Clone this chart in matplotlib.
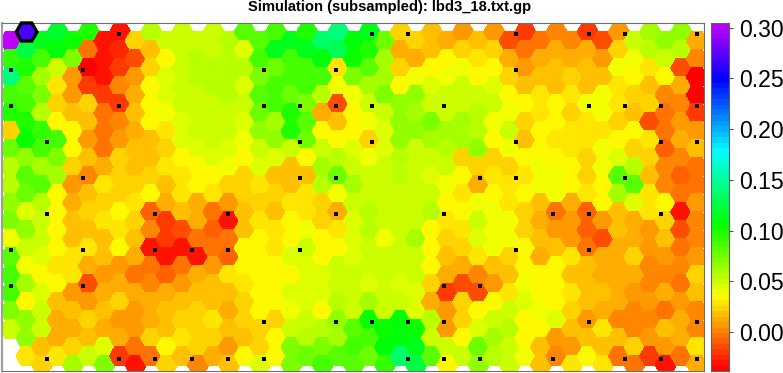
import numpy as np
import matplotlib
matplotlib.use('Agg')
import matplotlib.pyplot as plt
from matplotlib.collections import PolyCollection
from matplotlib.colors import ListedColormap, hsv_to_rgb

plt.rcParams['font.family'] = ['Liberation Sans', 'DejaVu Sans']

# one list per hexagon column, top to bottom
hex_values = [
    [.30, .095, .14, .09, .10, .025, .075, .055, .058, .065, .07, .04, .08, .085, .09, .07, .052, None, None],
    [.27, .125, .10, .08, .09, .10, .105, .065, .08, .075, .045, .065, .05, .04, .06, .035, .065, .065, .03],
    [.115, .09, .06, .07, .055, .095, .09, .06, .08, .055, .05, .048, .042, .036, .045, .05, .05, .018, .025],
    [.12, .11, .05, .028, .025, .035, .09, .07, .06, .032, .033, .036, .033, .03, .036, .017, .012, .012, .028],
    [.105, .07, .005, .005, .02, .035, .035, .025, .005, .01, .02, .018, .028, .028, .005, .018, .012, .022, .06],
    [.10, -.003, -.035, -.022, .022, .018, .005, .018, .002, .018, .022, .02, .028, .012, -.012, .005, .022, .018, .05],
    [-.033, -.033, -.03, -.018, -.005, -.003, -.003, .012, .03, .025, .028, .018, .016, .008, .01, .02, .012, .042, .07],
    [-.032, -.025, -.018, .003, -.02, .002, .008, .022, .025, .024, .032, .028, .032, .008, .01, .022, .008, .01, -.018],
    [.025, -.012, .008, .012, .018, .012, .017, .02, .024, .03, .024, .018, .012, -.002, .012, .008, .008, -.002, -.028],
    [.055, .02, .022, .035, .035, .035, .018, .018, .022, .035, -.01, .002, -.028, -.006, 0, .012, .012, .022, -.003],
    [.05, .035, .042, .042, .04, .03, .025, .028, .02, .012, -.018, -.022, -.028, -.008, .012, .018, .018, .032, .025],
    [.05, .05, .052, .05, .05, .045, .042, .035, .03, .026, .018, -.012, -.032, -.003, .005, .018, .024, .026, .018],
    [.052, .054, .056, .052, .05, .05, .045, .035, .032, .014, .012, -.006, -.028, .01, .016, .024, .024, .022, 0],
    [.05, .052, .056, .055, .05, .05, .05, .045, .035, .026, -.005, -.008, -.002, .006, .02, .018, .03, .024, .01],
    [.056, .053, .056, .054, .05, .05, .045, .04, .025, .006, -.03, -.006, -.008, .028, .018, .012, .02, .006, .016],
    [.08, .045, .056, .045, .05, .045, .04, .035, .025, .022, .02, .02, .034, .036, .03, .024, .024, .018, .036],
    [.08, .085, .07, .08, .075, .065, .05, .045, .03, .024, .026, .032, .035, .034, .032, .032, .022, .022, .045],
    [.09, .115, .075, .085, .085, .06, .065, .045, .02, .025, .018, .03, .03, .035, .036, .036, .024, .035, .036],
    [.115, .085, .09, .075, .10, .10, .05, .02, .018, .026, .036, .035, .045, .036, .042, .04, .05, .07, .07],
    [.10, .115, .09, .09, .07, .08, .075, .035, .02, .03, .03, .04, .05, .045, .043, .043, .05, .055, .075],
    [.135, .11, .09, .055, .015, .035, .05, .06, .055, .022, .024, .036, .036, .045, .045, .036, .055, .07, .09],
    [.14, .13, .03, .04, -.012, .018, .035, .055, .075, .038, .012, .028, .035, .052, .048, .055, .065, .06, .08],
    [.11, .105, .07, .04, .035, .035, .042, .05, .06, .048, .045, .045, .045, .05, .05, .05, .08, .085, .08],
    [.115, .10, .08, .06, .05, .04, .025, .04, .05, .048, .053, .053, .048, .05, .042, .06, .105, .09, .075],
    [.075, .06, .06, .07, .05, .045, .045, .05, .05, .048, .048, .04, .05, .05, .05, .048, .105, .11, .095],
    [.025, .012, .025, .035, .065, .065, .065, .055, .055, .05, .052, .05, .05, .05, .045, .048, .11, .11, .135],
    [.025, .015, .04, .065, .062, .068, .05, .05, .05, .052, .052, .06, .05, .05, .045, .045, .105, .115, .125],
    [.017, .017, .032, .045, .05, .07, .06, .05, .045, .052, .056, .033, .033, .035, .022, .012, .055, .052, .08],
    [.01, .035, .04, .05, .05, .06, .055, .05, .04, .036, .03, .025, .02, .012, -.018, .005, .008, .048, .036],
    [.005, .022, .04, .05, .05, .06, .06, .025, .035, .03, .036, .03, .024, .012, -.012, .022, .022, .036, .048],
    [.018, .03, .035, .05, .055, .055, .065, .025, .015, .04, .052, .042, .028, .004, -.012, .036, .044, .075, .065],
    [.008, .025, .032, .045, .05, .04, .035, .025, .03, .036, .04, .04, .04, .02, .005, .035, .048, .062, .058],
    [-.015, .012, .025, .035, .04, .048, .038, .025, .03, .03, .038, .04, .024, .02, .03, .048, .054, .05, .05],
    [-.02, -.005, .008, .018, .032, .025, .018, .035, .03, .036, .022, .022, .036, .032, .04, .042, .035, .036, .04],
    [-.002, .01, .02, .028, .028, .034, .036, .04, .04, .018, .012, .018, .014, .033, .036, .037, .036, .016, .02],
    [.003, .01, .016, .02, .034, .034, .03, .035, .04, .038, -.002, .006, .02, .032, .033, .035, .045, .005, 0],
    [.002, .012, .022, .028, .022, .028, .03, .035, .036, .012, .006, .006, .03, .018, .026, .022, .017, .008, .03],
    [-.018, .012, .02, .016, .04, .03, .028, .022, .025, .026, -.01, -.008, -.004, .018, .02, .018, .008, .018, .033],
    [-.015, .008, .016, .04, .04, .028, .04, .038, .032, .034, .006, -.015, .012, .012, .016, .012, .027, .02, .028],
    [.008, .022, .037, .03, .03, .022, .035, .045, .08, .06, .018, .02, .012, .01, .014, .012, .004, .018, -.003],
    [.05, .04, .032, .024, .018, .032, .022, .055, .08, .045, .01, .01, .024, .012, .008, .004, .004, .024, -.005],
    [.06, .058, .03, .016, .022, -.012, .028, .022, .02, .03, .028, .006, .006, 0, .002, .008, .002, .006, -.018],
    [.068, .05, .035, .004, -.005, -.002, -.008, 0, 0, .035, .022, .018, .006, .002, .01, -.006, .02, .006, -.03],
    [.068, .055, -.016, .01, .002, .006, .012, 0, -.008, -.003, -.032, -.015, -.002, .002, -.005, .008, .01, .014, -.002],
    [.012, 0, -.035, -.035, -.018, .008, .018, -.002, -.005, .008, .004, .001, .005, .022, .016, .002, .004, .028, .01],
]

# subsampled points, grid columns per grid row
sample_columns = [
    [3, 10, 11, 14, 16, 17, 19],
    [0, 2, 7, 9, 14],
    [0, 3, 7, 8, 9, 10, 12, 16, 17, 18, 19],
    [1, 8, 10, 14, 18, 19],
    [2, 8, 9, 13, 14, 17],
    [1, 4, 6, 9, 12, 15, 16, 18],
    [0, 2, 4, 5, 6, 8, 14, 16],
    [0, 2, 12, 13],
    [7, 9, 10, 11, 12, 16, 19],
    [1, 3, 4, 5, 6, 7, 11, 12, 13, 15, 17, 18, 19],
]
highlight_cell = (1, 0)

title = 'Simulation (subsampled): lbd3_18.txt.gp'
cbar_ticks = [0.00, 0.05, 0.10, 0.15, 0.20, 0.25, 0.30]
vmin, vmax = -0.0385, 0.3047

W, H = 783, 373
hues = np.linspace(0, 0.79, 64)
cmap = ListedColormap(hsv_to_rgb(np.column_stack([hues, np.ones(64), np.ones(64)])))

fig = plt.figure(figsize=(W / 100, H / 100), dpi=100)


def box(x0, y0, x1, y1):
    return [x0 / W, 1 - y1 / H, (x1 - x0) / W, (y1 - y0) / H]


def hexagon(col, row):
    y = row + (0.5 if col % 2 == 0 else 0)
    return [(col - 2 / 3, y), (col - 1 / 3, y - .5), (col + 1 / 3, y - .5),
            (col + 2 / 3, y), (col + 1 / 3, y + .5), (col - 1 / 3, y + .5)]


ax = fig.add_axes(box(2, 23, 704, 371))
verts = []
vals = []
for col, column in enumerate(hex_values):
    for row, v in enumerate(column):
        if v is not None:
            verts.append(hexagon(col, row))
            vals.append(v)
cells = PolyCollection(verts, array=np.array(vals), cmap=cmap, edgecolors='face', linewidths=0.3,
                       antialiaseds=False)
cells.set_clim(vmin, vmax)
ax.add_collection(cells)

ax.add_patch(plt.Polygon(hexagon(*highlight_cell), fill=False, edgecolor='black', linewidth=2.4,
                         joinstyle='miter', zorder=3, clip_on=False))

xs = []
ys = []
for m, columns in enumerate(sample_columns):
    for n in columns:
        xs.append(n * 2.3157)
        ys.append(0.11 + m * 2.003)
ax.scatter(xs, ys, marker='s', s=9.5, color='black', linewidths=0, zorder=4)

ax.set_xlim(-0.577, 44.45)
ax.set_ylim(18.83, -0.5)
ax.set_xticks([])
ax.set_yticks([])
for s in ax.spines.values():
    s.set_color('#707070')
    s.set_linewidth(0.8)
ax.spines['left'].set_color('#a0a0a0')
ax.spines['left'].set_linewidth(1.6)

fig.text(390 / W, 1 - 6.5 / H, title, ha='center', va='center', fontsize=10.6, fontweight='bold')

cax = fig.add_axes(box(711, 23, 728.5, 371))
gradient = np.linspace(vmin, vmax, 256).reshape(-1, 1)
cax.imshow(gradient, aspect='auto', origin='lower', cmap=cmap, vmin=vmin, vmax=vmax,
           extent=[0, 1, vmin, vmax], interpolation='nearest')
cax.set_xticks([])
cax.yaxis.tick_right()
cax.set_yticks(cbar_ticks)
cax.set_yticklabels(['%.2f' % t for t in cbar_ticks], fontsize=16.6)
cax.tick_params(axis='y', length=3, width=0.8, color='#505050', pad=5)
for s in cax.spines.values():
    s.set_color('#606060')
    s.set_linewidth(0.8)

fig.savefig('out.png', dpi=100)
